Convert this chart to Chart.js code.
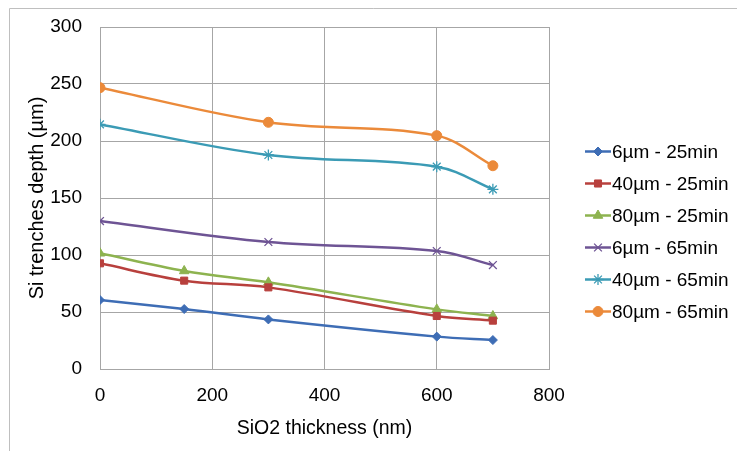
<!DOCTYPE html>
<html>
<head>
<meta charset="utf-8">
<script src="https://cdn.jsdelivr.net/npm/chart.js@4/dist/chart.umd.min.js"></script>
<style>
  html, body { margin: 0; padding: 0; background: #fff; }
  #wrap { position: relative; width: 737px; height: 451px; }
</style>
</head>
<body>
<div id="wrap"><canvas id="chart-depth" width="737" height="451"></canvas></div>
<script>
// datos
const thickness = [0, 150, 300, 600, 700];
const thicknessB = [0, 300, 600, 700];

const d6_25  = [60.5, 52.6, 43.5, 28.4, 25.4];
const d40_25 = [92.7, 77.5, 71.6, 46.5, 42.4];
const d80_25 = [101.5, 86.0, 76.0, 52.3, 46.5];
const d6_65  = [129.8, 111.4, 103.5, 91.2];
const d40_65 = [214.6, 187.7, 177.5, 157.6];
const d80_65 = [246.8, 216.4, 204.7, 178.3];

const xTicks = [0, 200, 400, 600, 800];
const yTicks = [0, 50, 100, 150, 200, 250, 300];

const FONT = "'Liberation Sans', Arial, sans-serif";

function serie(label, xs, ys, color, style, radius) {
    return {
        label: label,
        data: xs.map((x, i) => ({ x: x, y: ys[i] })),
        borderColor: color,
        backgroundColor: color,
        borderWidth: 2.5,
        pointStyle: style,
        pointRadius: radius,
        pointBorderWidth: style === 'crossRot' || style === 'star' ? 1.3 : 1,
        tension: 0.35,
        fill: false
    };
}

const datasets = [
    serie('6µm - 25min',  thickness,  d6_25,  '#3E6DB5', 'rectRot', 4.5),
    serie('40µm - 25min', thickness,  d40_25, '#B8403D', 'rect', 5),
    serie('80µm - 25min', thickness,  d80_25, '#8DB34F', 'triangle', 5.5),
    serie('6µm - 65min',  thicknessB, d6_65,  '#6E5494', 'crossRot', 5.5),
    serie('40µm - 65min', thicknessB, d40_65, '#3B9BB5', 'star', 5.5),
    serie('80µm - 65min', thicknessB, d80_65, '#EB8A3A', 'circle', 5)
];

// marco + leyenda propia (linea con marcador)
const marcoLeyenda = {
    id: 'marcoLeyenda',
    afterDraw(chart) {
        const ctx = chart.ctx;
        ctx.save();
        ctx.strokeStyle = '#BFBFBF';
        ctx.lineWidth = 1;
        ctx.beginPath();
        ctx.moveTo(9.5, 451);
        ctx.lineTo(9.5, 8.5);
        ctx.lineTo(737, 8.5);
        ctx.stroke();

        const x0 = 585, y0 = 151.5, paso = 32;
        chart.data.datasets.forEach((ds, i) => {
            const y = y0 + i * paso;
            ctx.strokeStyle = ds.borderColor;
            ctx.fillStyle = ds.backgroundColor;
            ctx.lineWidth = 2.5;
            ctx.beginPath();
            ctx.moveTo(x0, y);
            ctx.lineTo(x0 + 26, y);
            ctx.stroke();
            ctx.lineWidth = ds.pointBorderWidth;
            Chart.helpers.drawPoint(ctx, {
                pointStyle: ds.pointStyle,
                radius: ds.pointRadius,
                borderWidth: ds.pointBorderWidth,
                rotation: 0
            }, x0 + 13, y);
            ctx.fillStyle = '#000';
            ctx.font = '19px ' + FONT;
            ctx.textBaseline = 'middle';
            ctx.textAlign = 'left';
            ctx.fillText(ds.label, x0 + 27, y + 1);
        });
        ctx.restore();
    }
};

let chartDepth = new Chart(document.getElementById('chart-depth').getContext('2d'), {
    type: 'line',
    data: { datasets: datasets },
    options: {
        responsive: false,
        animation: false,
        layout: { padding: { top: 27, right: 188, left: 25, bottom: 11 } },
        plugins: { legend: { display: false }, tooltip: { enabled: false } },
        scales: {
            x: {
                type: 'linear',
                min: 0, max: 800,
                afterBuildTicks: s => { s.ticks = xTicks.map(v => ({ value: v })); },
                grid: { color: '#A6A6A6', lineWidth: 1, drawTicks: false },
                border: { color: '#A6A6A6' },
                ticks: { color: '#000', font: { family: FONT, size: 19 }, padding: 15 },
                title: { display: true, text: 'SiO2 thickness (nm)', color: '#000',
                         font: { family: FONT, size: 19.5 }, padding: { top: 0, bottom: 0 } },
                afterFit: s => { s.height = 451 - 369 - 11; s.paddingLeft = 0; s.paddingRight = 0; }
            },
            y: {
                min: 0, max: 300,
                afterBuildTicks: s => { s.ticks = yTicks.map(v => ({ value: v })); },
                grid: { color: '#A6A6A6', lineWidth: 1, drawTicks: false },
                border: { color: '#A6A6A6' },
                ticks: { color: '#000', font: { family: FONT, size: 19 }, padding: 18 },
                title: { display: true, text: 'Si trenches depth (µm)', color: '#000',
                         font: { family: FONT, size: 20 }, padding: { top: 0, bottom: 0 } },
                afterFit: s => { s.width = 100 - 25; s.paddingTop = 0; s.paddingBottom = 0; }
            }
        }
    },
    plugins: [marcoLeyenda]
});
</script>
</body>
</html>
